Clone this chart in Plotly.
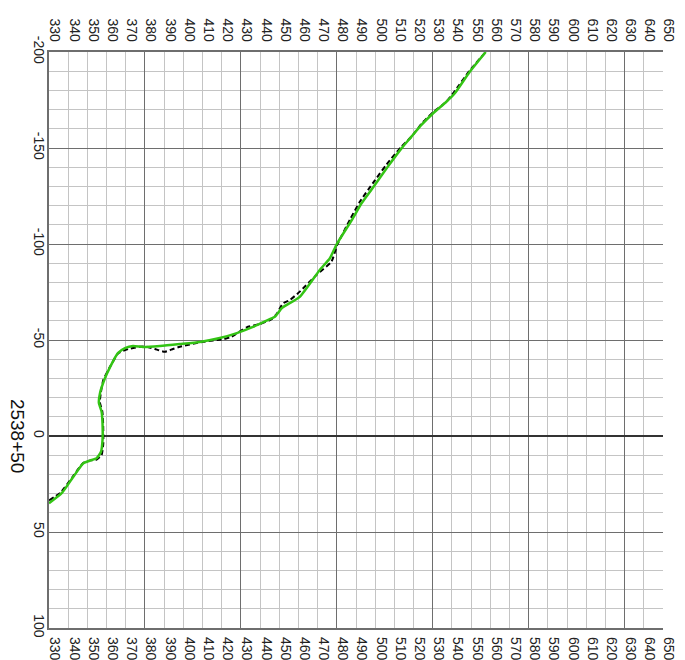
import plotly.graph_objects as go

# Design profile (green)
green_x = [330, 336.6, 342.7, 347.9, 351.4, 354.8, 357.1, 357.9, 357.9, 357.4, 356.0, 356.6, 359.2,
           361.8, 365.9, 369.6, 373.8, 379.0, 387.8, 398.2, 408.6, 419.0, 427.9, 436.3, 442.0,
           447.7, 451.5, 460.7, 471.1, 476.4, 480.0, 487.8, 492.9, 499.8, 506.6, 513.7, 518.9,
           524.1, 530.2, 537.1, 541.5, 549.3, 557.6]
green_y = [35, 29.8, 21.2, 14.2, 12.8, 11.6, 8.2, 2.1, -6.6, -12.7, -17.2, -22.4, -30.2,
           -35.9, -43.2, -45.8, -46.9, -46.4, -46.9, -47.9, -49.0, -51.0, -53.6, -56.8, -59.5,
           -62.1, -66.8, -72.5, -86.5, -92.6, -100.0, -112.5, -121.2, -130.7, -140.3, -149.8, -155.9,
           -162.0, -168.1, -174.1, -178.5, -189.7, -200]

# Existing ground (black dashed)
black_x = [330, 336.0, 342.5, 347.9, 351.5, 354.8, 357.4, 358.3, 358.2, 357.8, 356.5, 357.0, 358.3,
           361.5, 366.1, 371.3, 377.4, 380.9, 385.2, 390.4, 394.6, 398.2, 410.4, 420.8, 425.1,
           433.0, 439.9, 446.0, 448.6, 452.0, 455.5, 460.7, 469.4, 477.2, 480.2, 487.0, 492.0,
           499.0, 506.0, 513.5, 519.0, 524.0, 530.0, 537.0, 541.0, 549.0, 557.6]
black_y = [33.5, 29.5, 21.0, 14.0, 12.7, 12.3, 9.9, 3.8, -6.6, -12.7, -17.5, -22.4, -29.2,
           -35.5, -43.1, -45.3, -46.5, -46.5, -45.3, -43.9, -45.3, -46.5, -49.1, -50.4, -51.7,
           -56.6, -58.3, -60.8, -63.5, -69.1, -70.8, -75.2, -83.9, -90.8, -99.5, -113.0, -122.0,
           -132.0, -141.5, -150.5, -156.0, -162.5, -168.5, -174.0, -179.0, -190.0, -200]

x_range = [330, 650]
y_range = [100, -200]
y_tick_vals = [-200, -150, -100, -50, 0, 50, 100]
y_tick_text = ["-200", "-150", "-100", "-50", "0", "50", "100"]
title_text = "2538+50"

DARK = "#6e6e6e"
LIGHT = "#c4c4c4"
FONT = dict(family="Liberation Sans, Arial, sans-serif", size=14, color="#222")

fig = go.Figure()
fig.add_trace(go.Scatter(x=black_x, y=black_y, mode="lines",
                         line=dict(color="#000000", width=2, dash="5px,3px", shape="spline", smoothing=0.5),
                         showlegend=False, hoverinfo="skip"))
fig.add_trace(go.Scatter(x=green_x, y=green_y, mode="lines",
                         line=dict(color="#33c414", width=2.5, shape="spline", smoothing=0.5),
                         showlegend=False, hoverinfo="skip"))
# empty traces so the label-only overlay axes are drawn
fig.add_trace(go.Scatter(x=[], y=[], xaxis="x2", yaxis="y", showlegend=False, hoverinfo="skip"))
fig.add_trace(go.Scatter(x=[], y=[], xaxis="x3", yaxis="y", showlegend=False, hoverinfo="skip"))

fig.update_layout(
    width=685, height=660,
    margin=dict(l=41, r=30, t=44, b=40),
    paper_bgcolor="white", plot_bgcolor="white",
    showlegend=False,
    xaxis=dict(range=x_range, tick0=330, dtick=50, showgrid=True, gridcolor=DARK, gridwidth=1,
               minor=dict(tick0=330, dtick=10, showgrid=True, gridcolor=LIGHT, gridwidth=1),
               showticklabels=False, ticks="", zeroline=False, automargin=False,
               showline=True, linecolor=DARK, linewidth=1.5, mirror=True),
    xaxis2=dict(range=x_range, overlaying="x", side="bottom", anchor="y", tick0=330, dtick=10,
                showgrid=False, zeroline=False, tickangle=90, tickfont=FONT, ticks="",
                ticklabelstandoff=8, ticklabelshift=6, automargin=False),
    xaxis3=dict(range=x_range, overlaying="x", side="top", anchor="y", tick0=330, dtick=10,
                showgrid=False, zeroline=False, tickangle=90, tickfont=FONT, ticks="",
                ticklabelstandoff=7, ticklabelshift=6, automargin=False),
    yaxis=dict(range=y_range, tickmode="array", tickvals=y_tick_vals, ticktext=y_tick_text,
               showgrid=True, gridcolor=DARK, gridwidth=1,
               minor=dict(tick0=-200, dtick=10, showgrid=True, gridcolor=LIGHT, gridwidth=1),
               zeroline=True, zerolinecolor="#333333", zerolinewidth=2,
               tickangle=90, tickfont=FONT, ticks="", ticklabelstandoff=-4, automargin=False,
               showline=True, linecolor=DARK, linewidth=1.5),
    annotations=[dict(text=title_text, xref="paper", yref="paper", x=-0.05, y=0.333,
                      xanchor="center", yanchor="middle", showarrow=False, textangle=90,
                      font=dict(family="Liberation Sans, Arial, sans-serif", size=19, color="#111"))],
)

fig.write_html("out.html")
